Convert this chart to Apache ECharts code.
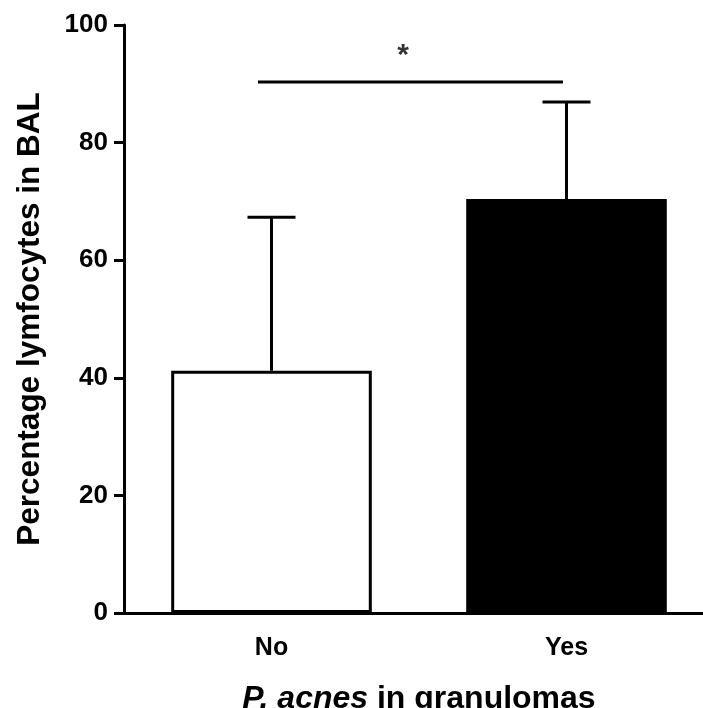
<!DOCTYPE html>
<html>
<head>
<meta charset="utf-8">
<script src="https://cdn.jsdelivr.net/npm/echarts@6/dist/echarts.min.js"></script>
<style>
  html, body { margin: 0; padding: 0; background: #ffffff; }
  #chart { width: 703px; height: 708px; }
</style>
</head>
<body>
<div id="chart"></div>
<script>
// data
const categories = ['No', 'Yes']
const meanValues = [41.2, 70.4]
const sdUpper = [67.3, 86.9]
const barColors = ['#ffffff', '#000000']
const yTicks = [0, 20, 40, 60, 80, 100]
// significance bracket, in units of the hidden value x axis (category index)
const sigLine = [[-0.046, 90.3], [0.988, 90.3]]
const sigStar = [[0.446, 95.3]]

const font = '"Liberation Sans", Arial, sans-serif'
const chart = echarts.init(document.getElementById('chart'))

const option = {
  backgroundColor: '#ffffff',
  animation: false,
  grid: { left: 124, right: -11, top: 25, bottom: 95, containLabel: false, outerBoundsMode: 'none' },
  xAxis: [{
    type: 'category',
    data: categories,
    axisLine: { lineStyle: { color: '#000', width: 3 } },
    axisTick: { alignWithLabel: true, length: 10, lineStyle: { color: '#000', width: 3 } },
    axisLabel: { color: '#000', fontFamily: font, fontWeight: 'bold', fontSize: 25, margin: 23 },
    name: '{i|P. acnes }{n|in granulomas}',
    nameLocation: 'middle',
    nameGap: 70,
    nameTextStyle: {
      rich: {
        i: { fontFamily: font, fontWeight: 'bold', fontStyle: 'italic', fontSize: 32, color: '#000' },
        n: { fontFamily: font, fontWeight: 'bold', fontSize: 32, color: '#000' }
      }
    }
  }, {
    type: 'value',
    min: -0.5,
    max: 1.5,
    show: false
  }],
  yAxis: {
    type: 'value',
    min: 0,
    max: 100,
    interval: 20,
    name: 'Percentage lymfocytes in BAL',
    nameLocation: 'middle',
    nameGap: 78,
    nameTextStyle: { fontFamily: font, fontWeight: 'bold', fontSize: 31.5, color: '#000' },
    axisLine: { show: true, onZero: false, lineStyle: { color: '#000', width: 3 } },
    axisTick: { show: true, length: 10, lineStyle: { color: '#000', width: 3 } },
    axisLabel: {
      color: '#000', fontFamily: font, fontWeight: 'bold', fontSize: 26, margin: 16,
      formatter: v => yTicks.includes(v) ? String(v) : ''
    },
    splitLine: { show: false }
  },
  series: [
    {
      type: 'bar',
      data: meanValues.map((v, i) => ({
        value: v,
        itemStyle: { color: barColors[i], borderColor: '#000', borderWidth: 3 }
      })),
      barWidth: '68%'
    },
    {
      // error bars (upper only)
      type: 'custom',
      z: 1,
      data: categories.map((c, i) => [i, meanValues[i], sdUpper[i]]),
      renderItem: (params, api) => {
        const base = api.coord([api.value(0), api.value(1)])
        const top = api.coord([api.value(0), api.value(2)])
        const half = 24
        return {
          type: 'group',
          children: [
            { type: 'line', shape: { x1: base[0], y1: base[1], x2: top[0], y2: top[1] },
              style: { stroke: '#000', lineWidth: 3 } },
            { type: 'line', shape: { x1: top[0] - half, y1: top[1], x2: top[0] + half, y2: top[1] },
              style: { stroke: '#000', lineWidth: 3 } }
          ]
        }
      }
    },
    {
      type: 'line',
      xAxisIndex: 1,
      data: sigLine,
      symbol: 'none',
      lineStyle: { color: '#000', width: 3 },
      silent: true
    },
    {
      type: 'scatter',
      xAxisIndex: 1,
      data: sigStar,
      symbolSize: 1,
      itemStyle: { color: 'transparent' },
      label: {
        show: true,
        position: 'inside',
        formatter: '*',
        fontFamily: font,
        fontWeight: 'bold',
        fontSize: 30,
        color: '#000',
        offset: [0, 3]
      },
      silent: true
    }
  ]
}

chart.setOption(option)
window.addEventListener('resize', () => chart && chart.resize())
</script>
</body>
</html>
